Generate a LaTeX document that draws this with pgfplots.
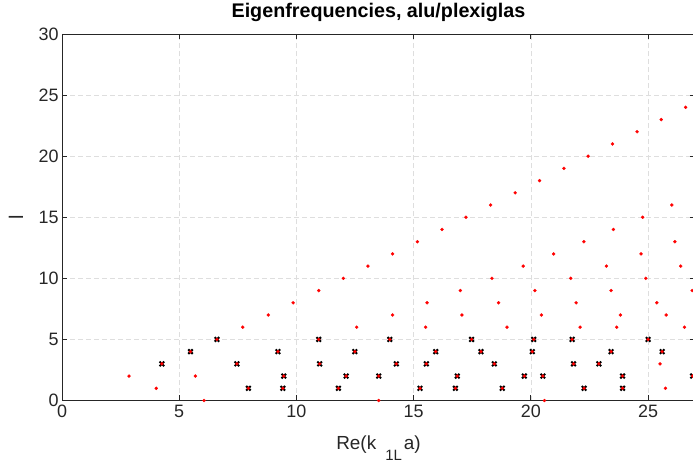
\documentclass[border=0pt]{standalone}
\usepackage{fontspec}
\setmainfont{Liberation Sans}
\usepackage{pgfplots}
\usepackage{pgfplotstable}
\pgfplotsset{compat=1.18}
\definecolor{axc}{rgb}{0.15,0.15,0.15}
\definecolor{gridc}{RGB}{222,222,222}

\pgfplotstableread{
x l
6.06 0
13.51 0
20.58 0
4.02 1
7.95 1
9.42 1
11.79 1
15.27 1
16.78 1
18.78 1
22.27 1
23.91 1
25.74 1
2.86 2
5.69 2
9.46 2
12.12 2
13.51 2
16.86 2
19.72 2
20.51 2
23.91 2
26.90 2
4.26 3
7.46 3
10.99 3
14.26 3
15.54 3
18.44 3
21.82 3
22.90 3
25.51 3
5.48 4
9.21 4
12.49 4
15.94 4
17.87 4
20.06 4
23.42 4
25.60 4
6.61 5
10.95 5
13.98 5
17.47 5
20.12 5
21.76 5
25.00 5
7.71 6
12.57 6
15.51 6
18.98 6
22.10 6
23.66 6
26.55 6
8.80 7
14.10 7
17.06 7
20.45 7
23.82 7
25.77 7
9.86 8
15.57 8
18.62 8
21.93 8
25.37 8
10.95 9
16.99 9
20.17 9
23.42 9
26.88 9
12.00 10
18.34 10
21.70 10
24.90 10
13.05 11
19.67 11
23.22 11
26.39 11
14.10 12
20.97 12
24.70 12
15.16 13
22.26 13
26.14 13
16.21 14
23.52 14
17.23 15
24.77 15
18.28 16
26.01 16
19.33 17
20.37 18
21.41 19
22.44 20
23.48 21
24.53 22
25.56 23
26.60 24
}\alltable

\pgfplotstableread{
x l
7.95 1
9.42 1
11.79 1
15.27 1
16.78 1
18.78 1
22.27 1
23.91 1
9.46 2
12.12 2
13.51 2
16.86 2
19.72 2
20.51 2
23.91 2
26.90 2
4.26 3
7.46 3
10.99 3
14.26 3
15.54 3
18.44 3
21.82 3
22.90 3
5.48 4
9.21 4
12.49 4
15.94 4
17.87 4
20.06 4
23.42 4
25.60 4
6.61 5
10.95 5
13.98 5
17.47 5
20.12 5
21.76 5
25.00 5
}\crosstable

\begin{document}
\begin{tikzpicture}
\begin{axis}[
  name=ax, at={(0,0)}, anchor=south west,
  scale only axis, width=633bp, height=366.5bp,
  xmin=0, xmax=27, ymin=0, ymax=30,
  xtick={0,5,...,25}, ytick={0,5,...,30},
  grid=major,
  major grid style={gridc, line width=0.7bp, dash pattern=on 5bp off 3bp},
  axis line style={axc, line width=0.8bp},
  tick style={axc, line width=0.8bp},
  tick align=inside, major tick length=5bp,
  tick label style={font=\fontsize{18}{21}\selectfont, text=axc},
  xticklabel style={yshift=-1bp},
  /pgf/number format/assume math mode=true,
  title={\textbf{Eigenfrequencies, alu/plexiglas}},
  title style={font=\fontsize{19.8}{22}\selectfont, text=black,
    at={(axis description cs:0.5,1.03)}, anchor=base},
  xlabel={Re(k\hspace{9bp}\raisebox{-11.5bp}{\fontsize{15}{17}\selectfont 1L}\hspace{2bp}a)},
  xlabel style={font=\fontsize{19}{22}\selectfont, text=axc,
    at={(axis description cs:0.5,-0.1331)}, anchor=base},
  ylabel={l},
  ylabel style={font=\fontsize{19.8}{22}\selectfont, text=axc,
    at={(axis description cs:-0.0616,0.5)}, anchor=base, rotate=0},
  clip=false,
]
\addplot[only marks, mark=x, mark size=3.2bp, mark options={black, line width=2bp}] table[x=x, y=l] {\crosstable};
\addplot[only marks, mark=*, mark size=1.6bp, mark options={fill=red, draw=red, line width=0.2bp}] table[x=x, y=l] {\alltable};
\end{axis}
\pgfresetboundingbox
\path (-62bp,-62.5bp) rectangle (631bp,400.5bp);
\end{tikzpicture}
\end{document}
